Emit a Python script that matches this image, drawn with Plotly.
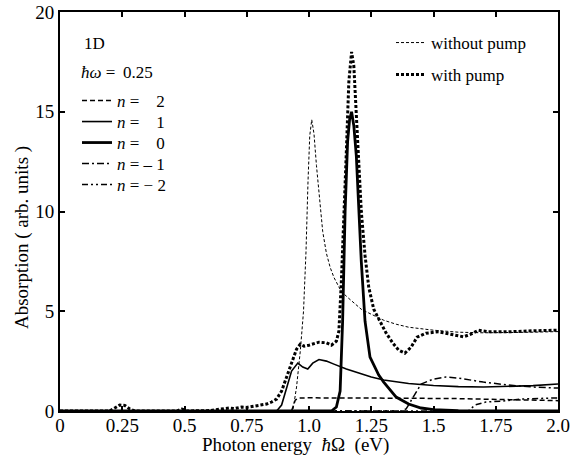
import plotly.graph_objects as go

# ---------------- data ----------------
x_without = [0, 0.935, 0.95, 0.965, 0.978, 0.988, 0.996, 1.003, 1.011, 1.02, 1.03, 1.04,
             1.055, 1.07, 1.085, 1.1, 1.125, 1.15, 1.18, 1.21, 1.25, 1.3, 1.35, 1.4,
             1.5, 1.6, 1.7, 1.8, 1.9, 2.0]
y_without = [0, 0, 1.2, 3.0, 5.0, 8.0, 11.5, 13.8, 14.6, 13.9, 12.3, 10.8,
             9.0, 7.9, 7.2, 6.7, 6.1, 5.75, 5.4, 5.1, 4.85, 4.55, 4.35, 4.2,
             4.05, 3.95, 3.92, 3.92, 3.95, 3.98]

x_with = [0, 0.2, 0.22, 0.24, 0.26, 0.28, 0.3, 0.47, 0.49, 0.51, 0.6, 0.65, 0.68, 0.7,
          0.73, 0.75, 0.78, 0.8, 0.83, 0.85, 0.87, 0.89, 0.91, 0.93, 0.95, 0.965,
          0.98, 1.0, 1.04, 1.07, 1.09, 1.11, 1.12, 1.13, 1.14, 1.15, 1.16, 1.171,
          1.18, 1.19, 1.2, 1.21, 1.225, 1.24, 1.26, 1.28, 1.31, 1.337, 1.36, 1.385,
          1.41, 1.434, 1.47, 1.52, 1.57, 1.62, 1.65, 1.68, 1.72, 1.8, 1.9, 2.0]
y_with = [0, 0, 0.15, 0.3, 0.28, 0.1, 0, 0, 0.1, 0, 0.02, 0.1, 0.15, 0.12,
          0.2, 0.18, 0.25, 0.3, 0.35, 0.45, 0.6, 1.0, 1.7, 2.5, 3.1, 3.35,
          3.25, 3.3, 3.45, 3.42, 3.3, 3.5, 4.0, 6.5, 9.5, 13.0, 16.5, 18.0,
          17.3, 15.0, 12.6, 10.0, 7.8, 6.2, 5.1, 4.6, 3.9, 3.4, 3.05, 2.9,
          3.2, 3.7, 3.9, 3.97, 3.85, 3.72, 3.85, 4.05, 3.97, 3.97, 4.02, 4.05]

x_n2 = [0, 0.93, 0.945, 0.96, 1.0, 1.2, 1.4, 1.6, 1.8, 2.0]
y_n2 = [0, 0, 0.55, 0.65, 0.66, 0.66, 0.64, 0.62, 0.58, 0.52]

x_n1 = [0, 0.87, 0.89, 0.91, 0.93, 0.955, 0.975, 0.995, 1.015, 1.04, 1.07, 1.1,
        1.15, 1.2, 1.25, 1.3, 1.4, 1.5, 1.6, 1.7, 1.8, 1.9, 2.0]
y_n1 = [0, 0, 0.3, 1.1, 2.0, 2.4, 2.2, 2.1, 2.4, 2.58, 2.5, 2.35,
        2.1, 1.9, 1.7, 1.55, 1.38, 1.28, 1.22, 1.2, 1.22, 1.27, 1.35]

x_n0 = [0, 1.09, 1.11, 1.125, 1.135, 1.145, 1.155, 1.163, 1.171, 1.18, 1.19, 1.2,
        1.21, 1.225, 1.245, 1.28, 1.3, 1.35, 1.4, 1.45, 1.5, 1.6, 1.75, 2.0]
y_n0 = [0, 0, 0.2, 1.0, 4.5, 10.0, 13.5, 14.6, 15.0, 14.3, 12.8, 10.0,
        7.5, 4.5, 2.7, 1.8, 1.45, 0.7, 0.35, 0.15, 0.07, 0.02, 0, 0]

x_nm1 = [0, 1.37, 1.39, 1.42, 1.45, 1.5, 1.55, 1.6, 1.7, 1.8, 1.9, 2.0]
y_nm1 = [0, 0, 0.1, 0.7, 1.35, 1.6, 1.7, 1.65, 1.45, 1.3, 1.2, 1.15]

x_nm2 = [0, 1.64, 1.667, 1.71, 1.78, 1.85, 1.98, 2.0]
y_nm2 = [0, 0, 0.3, 0.45, 0.5, 0.6, 0.65, 0.65]

x_tickvals = [0, 0.25, 0.5, 0.75, 1.0, 1.25, 1.5, 1.75, 2.0]
x_ticktext = ["0", "0.25", "0.5", "0.75", "1.0", "1.25", "1.5", "1.75", "2.0"]
y_tickvals = [0, 5, 10, 15, 20]

# ---------------- figure ----------------
FONT = "Liberation Serif, Times New Roman, serif"
W, H = 584, 463
# plot area in page pixels: x 60..558, y 12..411
PL, PT, PW, PH = 60, 12, 498, 399
ML, MT = PL, PT
MR = W - ML - PW
MB = H - MT - PH

def px_to_paper(px, py):
    return (px - PL) / PW, 1 - (py - PT) / PH

fig = go.Figure()

series = [
    (x_n2, y_n2, "<i>n</i> = \u2007 2", 1.5, "5px,3px", (77, 101)),
    (x_n1, y_n1, "<i>n</i> = \u2007 1", 1.6, "solid", (77, 122)),
    (x_n0, y_n0, "<i>n</i> = \u2007 0", 2.8, "solid", (77, 143)),
    (x_nm1, y_nm1, "<i>n</i> = \u2013 1", 1.5, "7px,3px,2px,3px", (77, 164)),
    (x_nm2, y_nm2, "<i>n</i> = \u2212 2", 1.5, "6px,3px,2px,3px,2px,3px", (77, 185)),
    (x_without, y_without, "without pump", 1.0, "3px,2px", (391, 43)),
    (x_with, y_with, "with pump", 3.0, "3px,2px", (391, 75)),
]

layout_legends = {}
for i, (x, y, name, width, dash, (lx, ly)) in enumerate(series):
    key = "legend" if i == 0 else f"legend{i + 1}"
    fig.add_trace(go.Scatter(
        x=x, y=y, mode="lines", name=name,
        line=dict(color="black", width=width, dash=dash, shape="linear"),
        legend=key, showlegend=True))
    px, py = px_to_paper(lx, ly)
    layout_legends[key] = dict(
        x=px, y=py, xanchor="left", yanchor="middle",
        bgcolor="rgba(0,0,0,0)", borderwidth=0,
        font=dict(family=FONT, size=17, color="black"), itemwidth=30)

axis_common = dict(
    showline=True, linecolor="black", linewidth=2, mirror="ticks",
    ticks="inside", ticklen=5, tickwidth=1.5, tickcolor="black",
    showgrid=False, zeroline=False, automargin=False,
    ticklabeloverflow="allow",
    tickfont=dict(family=FONT, size=19, color="black"),
)

fig.update_layout(
    width=W, height=H,
    margin=dict(l=ML, r=MR, t=MT, b=MB, autoexpand=False),
    paper_bgcolor="white", plot_bgcolor="white",
    font=dict(family=FONT, size=17, color="black"),
    xaxis=dict(range=[0, 2.0], tickvals=x_tickvals, ticktext=x_ticktext,
               ticklabelstandoff=-4, **axis_common),
    yaxis=dict(range=[0, 20], tickvals=y_tickvals, **axis_common),
    showlegend=True,
    **layout_legends,
)

# axis titles
tx, ty = px_to_paper(295, 445)
fig.add_annotation(x=tx, y=ty, xref="paper", yref="paper",
                   text="Photon energy  <i>\u0127</i>\u03a9  (eV)", showarrow=False,
                   xanchor="center", yanchor="middle",
                   font=dict(family=FONT, size=19))
tx, ty = px_to_paper(22, 238)
fig.add_annotation(x=tx, y=ty, xref="paper", yref="paper",
                   text="Absorption ( arb. units )", showarrow=False, textangle=-90,
                   xanchor="center", yanchor="middle",
                   font=dict(family=FONT, size=19))

ax, ay = px_to_paper(82, 43)
fig.add_annotation(x=ax, y=ay, xref="paper", yref="paper",
                   text="1D", showarrow=False, xanchor="left", yanchor="middle",
                   font=dict(family=FONT, size=17))
ax, ay = px_to_paper(79, 73)
fig.add_annotation(x=ax, y=ay, xref="paper", yref="paper",
                   text="<i>\u0127\u03c9</i> = \u20090.25", showarrow=False,
                   xanchor="left", yanchor="middle",
                   font=dict(family=FONT, size=17))

fig.write_html("out.html", config={"displayModeBar": False},
               post_script="document.body.style.margin='0px';")
